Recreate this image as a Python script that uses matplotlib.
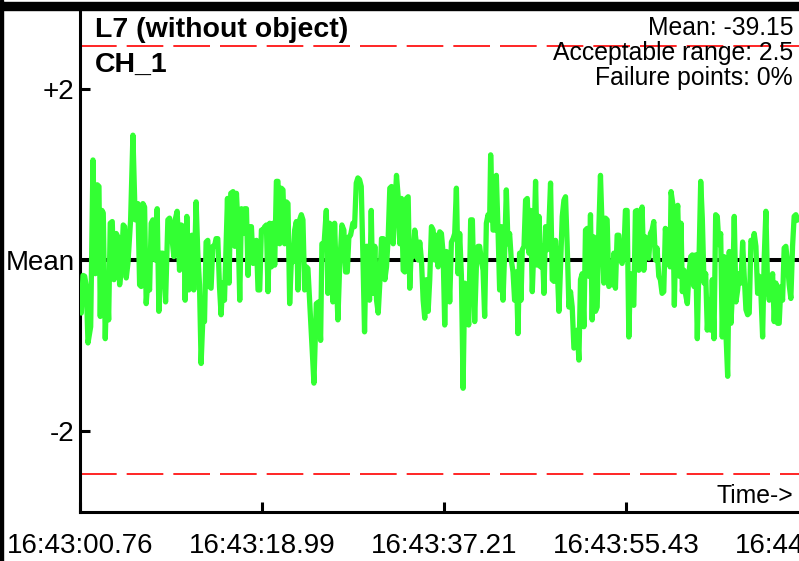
import matplotlib
matplotlib.use("Agg")
import matplotlib.pyplot as plt
from matplotlib.patches import Rectangle

plt.rcParams['font.family'] = ['Liberation Sans', 'DejaVu Sans']

# ---- data (seconds from 16:43:00.76, deviation from mean) ----
t_sec = [
    0.0, 0.13, 0.3, 0.47, 0.63, 0.8, 1.07, 1.3, 1.53, 1.73,
    1.9, 2.03, 2.2, 2.33, 2.53, 2.7, 2.87, 3.03, 3.23, 3.4,
    3.63, 3.8, 3.97, 4.13, 4.33, 4.47, 4.63, 4.8, 5.07, 5.3,
    5.53, 5.8, 5.97, 6.13, 6.3, 6.47, 6.63, 6.8, 6.97, 7.13,
    7.3, 7.53, 7.73, 7.9, 8.13, 8.3, 8.4, 8.57, 8.8, 8.97,
    9.2, 9.4, 9.53, 9.73, 9.97, 10.13, 10.4, 10.53, 10.7, 10.9,
    11.07, 11.2, 11.4, 11.63, 11.8, 11.97, 12.13, 12.3, 12.47, 12.63,
    12.8, 12.97, 13.13, 13.3, 13.47, 13.63, 13.8, 13.97, 14.13, 14.3,
    14.47,
    14.77, 14.93, 15.1, 15.33, 15.5, 15.67, 15.83, 16.0, 16.17, 16.33,
    16.5, 16.67, 16.83, 17.0, 17.17, 17.33, 17.5, 17.67, 17.83, 18.0,
    18.17, 18.33, 18.5, 18.67, 18.83, 19.0, 19.17, 19.33, 19.5, 19.67,
    19.83, 20.0, 20.17, 20.33, 20.5, 20.67, 20.83, 21.0, 21.17, 21.33,
    21.5, 21.67, 21.83, 22.0, 22.17, 22.33, 22.5, 22.67, 22.83, 23.0,
    23.17, 23.43, 23.67, 23.9, 24.1, 24.23, 24.43, 24.67, 24.83, 25.0,
    25.17, 25.33, 25.5, 25.67, 25.83, 26.0, 26.23, 26.43, 26.6, 26.77,
    26.93, 27.1, 27.33, 27.5, 27.67, 27.83, 28.0, 28.17, 28.33, 28.5,
    28.67, 28.83, 29.0, 29.17, 29.33,
    29.53, 29.7, 29.87, 30.03, 30.2, 30.37, 30.53, 30.7, 30.87, 31.03,
    31.2, 31.37, 31.53, 31.7, 31.87, 32.03, 32.2, 32.37, 32.53, 32.7,
    32.87, 33.03, 33.2, 33.37, 33.53, 33.7, 33.87, 34.03, 34.2, 34.37,
    34.53, 34.7, 34.87, 35.03, 35.2, 35.37, 35.53, 35.7, 35.87, 36.03,
    36.2, 36.37, 36.53, 36.7, 36.87, 37.03, 37.2, 37.37, 37.53, 37.7,
    37.87, 38.03, 38.2, 38.37, 38.53, 38.7, 38.93, 39.13, 39.3, 39.53,
    39.7, 39.87, 40.03, 40.2, 40.37, 40.53, 40.7, 40.87, 41.03, 41.13,
    41.37, 41.53, 41.7, 41.87, 42.03, 42.2, 42.37, 42.53, 42.7, 42.87,
    43.03, 43.2, 43.37, 43.53, 43.7, 43.87, 44.03,
    44.17, 44.3, 44.47, 44.63, 44.8, 44.97, 45.13, 45.3, 45.47, 45.63,
    45.8, 45.97, 46.13, 46.3, 46.47, 46.63, 46.8, 46.97, 47.13, 47.3,
    47.47, 47.63, 47.8, 47.97, 48.13, 48.3, 48.47, 48.63, 48.8, 48.97,
    49.13, 49.3, 49.47, 49.63, 49.8, 49.97, 50.13, 50.3, 50.47, 50.63,
    50.8, 50.97, 51.13, 51.3, 51.47, 51.63, 51.8, 51.97, 52.13, 52.3,
    52.47, 52.63, 52.8, 52.97, 53.13, 53.3, 53.47, 53.63, 53.8, 53.97,
    54.13, 54.3, 54.47, 54.63, 54.8, 54.97, 55.13, 55.3, 55.47, 55.63,
    55.8, 55.97, 56.13, 56.3, 56.47, 56.63, 56.8, 56.97, 57.13, 57.3,
    57.47, 57.63, 57.8, 57.97, 58.13, 58.3, 58.47, 58.63, 58.8,
    58.93, 59.1, 59.2, 59.37, 59.53, 59.7, 59.87, 60.03, 60.2, 60.33,
    60.5, 60.67, 60.83, 61.0, 61.17, 61.33, 61.5, 61.67, 61.83, 62.0,
    62.17, 62.33, 62.5, 62.67, 62.83, 63.0, 63.17, 63.33, 63.5, 63.67,
    63.83, 64.0, 64.17, 64.33, 64.5, 64.67, 64.87, 65.03, 65.2, 65.37,
    65.53, 65.7, 65.87, 66.03, 66.2, 66.37, 66.53, 66.7, 66.87, 67.03,
    67.2, 67.37, 67.53, 67.7, 67.87, 68.03, 68.2, 68.37, 68.53, 68.7,
    68.87, 69.03, 69.2, 69.37, 69.53, 69.7, 69.87, 70.03, 70.2, 70.37,
    70.53, 70.7, 70.87, 71.03, 71.2, 71.37, 71.53, 71.7, 71.9,
]

deviation = [
    -0.39, -0.62, -0.18, -0.19, -0.31, -0.97, -0.78, 1.17, -0.16, 0.88,
    0.86, -0.66, 0.58, 0.55, -0.92, -0.19, -0.70, 0.43, 0.45, -0.23,
    0.31, 0.27, -0.29, -0.12, 0.41, 0.39, -0.21, -0.04, 0.47, 1.46,
    0.47, 0.66, -0.29, -0.31, 0.66, 0.62, -0.51, -0.23, -0.35, 0.43,
    0.47, 0.0, 0.60, -0.60, 0.08, 0.08, 0.04, -0.49, 0.47, 0.49,
    0.27, 0.04, 0.47, 0.57, -0.12, 0.41, 0.39, -0.47, 0.51, -0.35,
    0.27, 0.29, -0.35, 0.68, 0.08, -0.29, -1.21, -0.70, -0.72, 0.21,
    0.23, -0.31, -0.33, 0.16, 0.16, 0.25, 0.25, -0.31, -0.64, -0.27,
    -0.47,
    0.72, -0.27, 0.78, 0.80, 0.16, 0.78, 0.39, -0.47, 0.60, 0.31,
    0.60, 0.60, -0.18, 0.39, 0.39, -0.04, 0.19, 0.23, -0.35, -0.35,
    0.35, 0.35, 0.39, 0.41, -0.37, 0.43, -0.08, 0.43, -0.06, 0.92,
    0.92, 0.19, 0.84, 0.82, 0.19, 0.68, 0.66, -0.51, 0.0, -0.02,
    0.35, 0.45, -0.35, 0.47, 0.53, 0.47, -0.35, -0.08, -0.10, -0.47,
    -0.86, -1.44, -0.51, -0.49, -0.94, 0.19, 0.16, 0.58, -0.39, 0.43,
    0.39, -0.49, 0.43, -0.19, -0.70, -0.10, 0.41, 0.35, -0.14, -0.14,
    0.27, 0.29, 0.43, 0.39, 0.90, 0.96, 0.94, 0.86, 0.08, -0.84,
    0.16, 0.16, -0.47, 0.58, -0.39,
    0.16, -0.47, -0.62, -0.27, 0.25, 0.25, -0.23, -0.08, 0.27, 0.84,
    0.86, 0.19, 0.60, 0.99, 0.74, 0.19, 0.72, -0.12, -0.14, 0.72,
    0.74, -0.33, 0.19, 0.04, 0.35, 0.19, 0.0, 0.21, 0.0, -0.47,
    -0.68, -0.23, -0.60, -0.23, 0.39, 0.35, 0.0, 0.29, -0.08, 0.33,
    0.31, 0.08, -0.76, 0.10, 0.08, -0.49, 0.21, 0.25, 0.31, 0.84,
    -0.16, 0.31, -0.18, -1.50, -0.27, -0.29, -0.76, 0.47, 0.47, -0.72,
    -0.08, 0.16, 0.16, 0.0, -0.12, -0.66, 0.43, 0.53, 0.47, 1.23,
    0.35, 0.35, 0.99, 0.35, -0.35, 0.39, -0.47, 0.08, 0.82, 0.19,
    0.31, 0.0, -0.14, -0.47, -0.14, -0.86, 0.08,
    -0.47, 0.12, 0.16, 0.70, 0.72, 0.08, 0.58, -0.37, 0.19, 0.92,
    -0.06, 0.51, -0.08, 0.16, -0.39, 0.39, 0.12, 0.41, 0.90, -0.23,
    -0.25, 0.23, -0.08, -0.60, -0.08, 0.51, 0.70, 0.74, 0.16, -0.55,
    -0.37, -0.55, -1.03, -1.01, -0.82, -1.17, -0.23, -0.16, -0.78, 0.35,
    0.37, -0.19, 0.53, -0.70, 0.27, -0.60, -0.55, 0.37, 0.99, 0.35,
    -0.27, 0.49, 0.47, -0.31, -0.23, -0.29, 0.08, -0.33, 0.29, 0.29,
    0.0, -0.04, 0.08, 0.58, 0.58, -0.90, -0.16, -0.49, -0.53, 0.57,
    0.58, -0.12, 0.16, 0.62, -0.12, 0.27, 0.08, 0.02, 0.31, 0.35,
    0.45, 0.0, 0.14, -0.19, -0.23, -0.39, -0.37, 0.37, 0.16,
    0.35, -0.08, 0.80, 0.66, -0.53, 0.47, 0.64, -0.19, 0.43, -0.37,
    -0.12, -0.41, -0.51, -0.14, 0.04, 0.06, -0.31, 0.06, -0.92, 0.02,
    0.92, 0.49, -0.27, -0.16, -0.82, -0.47, -0.82, -0.23, -0.92, 0.53,
    0.51, 0.18, 0.31, -0.90, 0.04, -0.78, -1.36, 0.10, -0.74, -0.33,
    0.51, -0.49, -0.35, -0.16, -0.27, 0.21, -0.19, -0.58, -0.64, -0.62,
    0.23, 0.19, 0.31, 0.16, -0.39, -0.19, -0.39, -0.90, 0.02, 0.57,
    -0.31, -0.47, -0.39, -0.16, -0.72, -0.27, -0.74, -0.74, -0.31, -0.47,
    0.14, 0.16, -0.04, -0.29, -0.45, 0.16, 0.51, 0.53, 0.47,
]

acceptable_range = 2.5
mean_value = -39.15
failure_pct = 0
x_tick_pos = [0.0, 18.23, 36.45, 54.67, 72.89]
x_tick_labels = ["16:43:00.76", "16:43:18.99", "16:43:37.21", "16:43:55.43", "16:44:13.65"]
y_tick_pos = [-2, 0, 2]
y_tick_labels = ["-2", "Mean", "+2"]
title_line1 = "L7 (without object)"
title_line2 = "CH_1"

# ---- figure ----
W, H = 799, 561
fig = plt.figure(figsize=(W / 100, H / 100), dpi=100)
fig.patch.set_facecolor('white')

def fx(px):
    return px / W

def fy(py):
    return 1 - py / H

ax = fig.add_axes([fx(80), fy(512), fx(830) - fx(80), (512 - 10) / H])
ax.set_xlim(0, 75.12)
ax.set_ylim(-2.947, 2.924)

ax.axhline(0, color='black', lw=2.9, zorder=2)
ax.axhline(acceptable_range, color='#ff0000', lw=1.2, ls=(0, (22, 6)), zorder=2)
ax.axhline(-acceptable_range, color='#ff0000', lw=1.2, ls=(0, (22, 6)), zorder=2)
ax.plot(t_sec, deviation, color='#33ff33', lw=3.8, zorder=3, solid_joinstyle='round')

for s in ['top', 'right']:
    ax.spines[s].set_visible(False)
for s in ['left', 'bottom']:
    ax.spines[s].set_linewidth(2.2)
    ax.spines[s].set_color('black')

ax.set_xticks(x_tick_pos)
ax.set_xticklabels(x_tick_labels)
ax.set_yticks(y_tick_pos)
ax.set_yticklabels(y_tick_labels)
ax.tick_params(axis='both', direction='in', length=7.2, width=2.2, colors='black', labelsize=20)
ax.tick_params(axis='x', pad=15)
ax.tick_params(axis='y', pad=4)

# frame decorations
fig.add_artist(Rectangle((0, fy(10)), 1, 8 / H, transform=fig.transFigure, color='black', zorder=10))
fig.add_artist(Rectangle((0, 0), 3 / W, 1, transform=fig.transFigure, color='black', zorder=10))

fig.text(fx(95), fy(37), title_line1, fontsize=20.5, fontweight='bold', va='baseline', ha='left')
fig.text(fx(95), fy(72), title_line2, fontsize=20.5, fontweight='bold', va='baseline', ha='left')
fig.text(fx(793), fy(35), f"Mean: {mean_value}", fontsize=17.8, va='baseline', ha='right')
fig.text(fx(793), fy(60), f"Acceptable range: {acceptable_range}", fontsize=17.8, va='baseline', ha='right')
fig.text(fx(793), fy(85), f"Failure points: {failure_pct}%", fontsize=17.8, va='baseline', ha='right')
fig.text(fx(793), fy(503), "Time->", fontsize=17.8, va='baseline', ha='right')

fig.savefig("out.png", dpi=100)
